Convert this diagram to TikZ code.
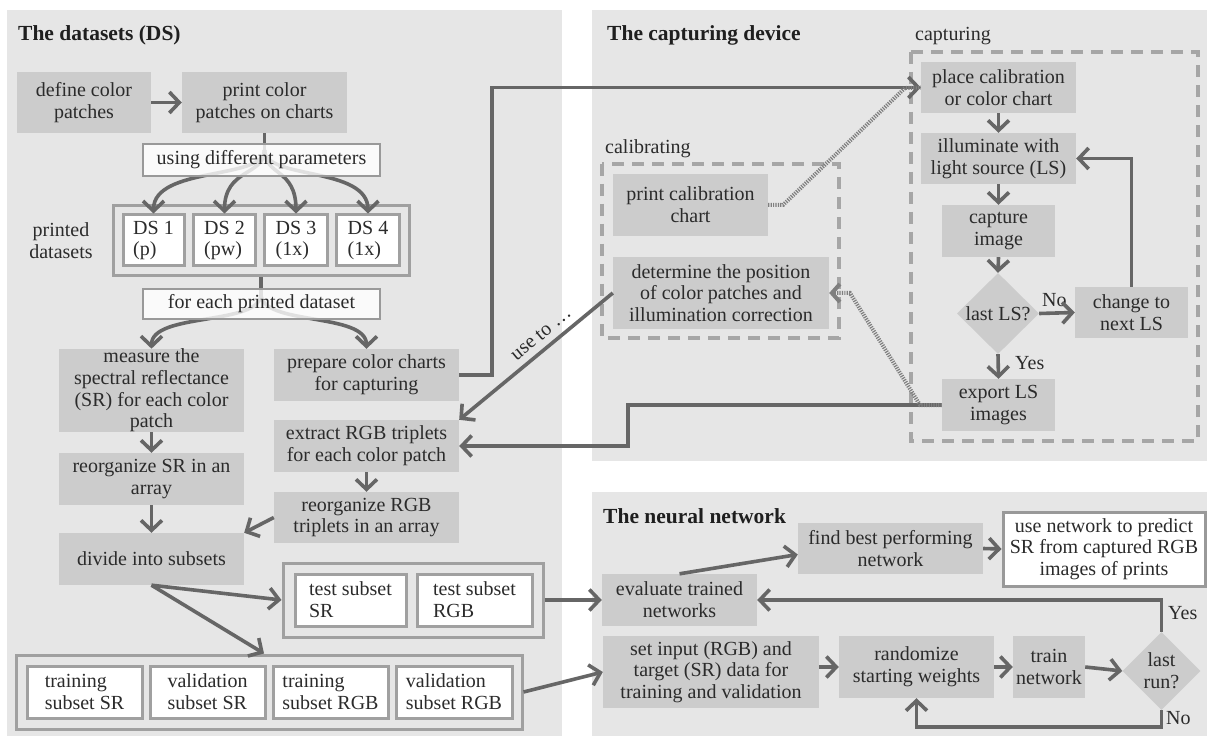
\documentclass[tikz,border=0pt]{standalone}
\usepackage{fontspec}
\setmainfont{Liberation Serif}
\usetikzlibrary{arrows.meta,shapes.geometric,calc}
\definecolor{panel}{HTML}{E6E6E6}
\definecolor{boxg}{HTML}{CCCCCC}
\definecolor{arrc}{HTML}{666666}
\definecolor{dashc}{HTML}{A6A6A6}
\definecolor{grpc}{HTML}{A0A0A0}
\definecolor{wbc}{HTML}{999999}
\definecolor{txt}{HTML}{2B2B2B}
\definecolor{ttl}{HTML}{1F1F1F}
\definecolor{dotc}{HTML}{7F7F7F}
\begin{document}
\begin{tikzpicture}[x=1pt,y=-1pt,
 font=\fontsize{20}{21.7}\selectfont, text=txt,
 box/.style={fill=boxg, inner sep=0pt, align=center},
 wbox/.style={fill=white, draw=grpc, line width=3pt, inner sep=0pt, align=left, minimum height=52pt},
 grp/.style={draw=grpc, line width=3pt, inner sep=0pt},
 dbox/.style={draw=dashc, line width=4pt, dash pattern=on 12pt off 8pt},
 dia/.style={diamond, aspect=1, fill=boxg, inner sep=0pt, align=center},
 arr/.style={draw=arrc, line width=3.6pt, -{Straight Barb[length=10pt,width=21pt]}},
 ln/.style={draw=arrc, line width=3.6pt},
 dotl/.style={draw=dotc, line width=4pt, dash pattern=on 1.2pt off 1.2pt},
 ttlf/.style={font=\fontsize{21.5}{24}\selectfont\bfseries, text=ttl, inner sep=0pt, anchor=base west},
 lbl/.style={inner sep=0pt, anchor=base west},
 wlab/.style={fill=white, fill opacity=0.8, text opacity=1, draw=wbc, line width=2pt, minimum width=237pt, inner sep=0pt}
]
\useasboundingbox (0,0) rectangle (1207,743);
% panels
\fill[panel] (7,10) rectangle (562,736);
\fill[panel] (592,10) rectangle (1207,461);
\fill[panel] (592,492) rectangle (1207,736);
% titles
\node[ttlf] (t1) at (18,41) {The datasets (DS)};
\node[ttlf] (t2) at (607,41) {The capturing device};
\node[ttlf] (t3) at (603,523) {The neural network};

% ---------- datasets ----------
\node[box, minimum width=134pt, minimum height=61pt] (define) at (84,102.5) {define color\\patches};
\node[box, minimum width=165pt, minimum height=61pt] (print) at (264.5,102.5) {print color\\patches on charts};
\node[grp, minimum width=296pt, minimum height=70pt] (dsg) at (261,241) {};
\node[wbox, minimum width=61pt, minimum height=51pt] (ds1) at (153.5,240.5) {DS 1\\(p)};
\node[wbox, minimum width=62pt, minimum height=51pt] (ds2) at (224.5,240.5) {DS 2\\(pw)};
\node[wbox, minimum width=63pt, minimum height=51pt] (ds3) at (296,240.5) {DS 3\\(1x)};
\node[wbox, minimum width=63pt, minimum height=51pt] (ds4) at (368,240.5) {DS 4\\(1x)};
\node[align=center, inner sep=0pt] (pd) at (61,241) {printed\\datasets};
\node[box, minimum width=185pt, minimum height=83pt] (measure) at (151.5,390.5) {measure the\\spectral reflectance\\(SR) for each color\\patch};
\node[box, minimum width=185pt, minimum height=52pt] (prepare) at (366.5,375) {prepare color charts\\for capturing};
\node[box, minimum width=185pt, minimum height=52pt] (reorgsr) at (151.5,479) {reorganize SR in an\\array};
\node[box, minimum width=185pt, minimum height=52pt] (extract) at (366.5,446) {extract RGB triplets\\for each color patch};
\node[box, minimum width=185pt, minimum height=51pt] (reorgrgb) at (366.5,517.5) {reorganize RGB\\triplets in an array};
\node[box, minimum width=185pt, minimum height=52pt] (divide) at (151.5,559) {divide into subsets};
\node[grp, minimum width=260pt, minimum height=74pt] (testg) at (413,600) {};
\node[wbox, minimum width=111pt] (testsr) at (350.5,600) {test subset\\SR};
\node[wbox, minimum width=115pt] (testrgb) at (474.5,600) {test subset\\RGB};
\node[grp, minimum width=506pt, minimum height=74pt] (traing) at (269,692) {};
\node[wbox, minimum width=115pt] (trsr) at (84.5,692) {training\\subset SR};
\node[wbox, minimum width=115pt] (vasr) at (207.5,692) {validation\\subset SR};
\node[wbox, minimum width=115pt] (trrgb) at (330.5,692) {training\\subset RGB};
\node[wbox, minimum width=116pt] (vargb) at (454,692) {validation\\subset RGB};

% ---------- capturing device ----------
\node[lbl] (caplbl) at (915,41) {capturing};
\draw[dbox] (911,52) rectangle (1198,441);
\node[lbl] (callbl) at (605,154) {calibrating};
\draw[dbox] (602,164) rectangle (839,338);
\node[box, minimum width=155pt, minimum height=51pt] (place) at (998.5,87.5) {place calibration\\or color chart};
\node[box, minimum width=155pt, minimum height=51pt] (illum) at (998.5,158.5) {illuminate with\\light source (LS)};
\node[box, minimum width=113pt, minimum height=52pt] (capimg) at (998.5,231) {capture\\image};
\node[dia, minimum width=82pt, minimum height=81pt] (dls) at (998,313.5) {last LS?};
\node[box, minimum width=113pt, minimum height=51pt] (change) at (1131.5,312.5) {change to\\next LS};
\node[box, minimum width=113pt, minimum height=52pt] (export) at (998.5,405) {export LS\\images};
\node[box, minimum width=155pt, minimum height=62pt] (pcc) at (690.5,205) {print calibration\\chart};
\node[box, minimum width=216pt, minimum height=72pt] (determine) at (721,293) {determine the position\\of color patches and\\illumination correction};
\node[lbl] (nolbl1) at (1042,306) {No};
\node[lbl] (yeslbl1) at (1015,369) {Yes};

% ---------- neural network ----------
\node[box, minimum width=185pt, minimum height=51pt] (find) at (890.5,548.5) {find best performing\\network};
\node[fill=white, draw=wbc, line width=3pt, inner sep=0pt, align=center, minimum width=202pt, minimum height=74pt] (use) at (1104,549) {use network to predict\\SR from captured RGB\\images of prints};
\node[box, minimum width=155pt, minimum height=52pt] (eval) at (679.5,600) {evaluate trained\\networks};
\node[box, minimum width=216pt, minimum height=72pt] (setin) at (711,672) {set input (RGB) and\\target (SR) data for\\training and validation};
\node[box, minimum width=155pt, minimum height=62pt] (rand) at (916.5,667) {randomize\\starting weights};
\node[box, minimum width=72pt, minimum height=62pt] (train) at (1049,667) {train\\network};
\node[dia, minimum width=78pt, minimum height=78pt] (drun) at (1161.5,671) {last\\run?};
\node[lbl] (yeslbl2) at (1168,619) {Yes};
\node[lbl] (nolbl2) at (1166,724) {No};

% ---------- connectors: datasets ----------
\draw[arr] (define.east) -- (print.west);
\coordinate (fan1) at (264.5,150);
\draw[ln] (print.south) -- (fan1);
\draw[arr] (fan1) .. controls (264.5,180) and (153.5,166) .. (ds1.north);
\draw[arr] (fan1) .. controls (264.5,176) and (224.5,168) .. (ds2.north);
\draw[arr] (fan1) .. controls (264.5,176) and (296,168) .. (ds3.north);
\draw[arr] (fan1) .. controls (264.5,180) and (368,166) .. (ds4.north);
\node[wlab, minimum height=32pt] (usingdp) at (261.5,160) {using different parameters};

\coordinate (fan2) at (261,294);
\draw[ln] (dsg.south) -- (fan2);
\draw[arr] (fan2) .. controls (261,326) and (151.5,312) .. (measure.north);
\draw[arr] (fan2) .. controls (261,326) and (366.5,312) .. (prepare.north);
\node[wlab, minimum height=30pt] (foreach) at (261.5,304) {for each printed dataset};

\draw[arr] (measure.south) -- (reorgsr.north);
\draw[arr] (reorgsr.south) -- (divide.north);
\draw[arr] (extract.south) -- (reorgrgb.north);
\draw[arr] (reorgrgb.west) -- (divide.north east);
\draw[arr] (divide.south) -- (testg.west);
\draw[arr] (divide.south) -- ([xshift=-5pt]traing.north);

% ---------- connectors: capturing ----------
\coordinate (p1) at (492,375);
\coordinate (p2) at (492,87.5);
\draw[arr] (prepare.east) -- (p1) -- (p2) -- (place.west);
\coordinate (d1) at (783,205);
\coordinate (d2) at (905,88);
\draw[dotl] (pcc.east) -- (d1) -- (d2) -- (place.west);
\draw[arr] (place.south) -- (illum.north);
\draw[arr] (illum.south) -- (capimg.north);
\draw[arr] (capimg.south) -- (dls.north);
\draw[arr] (dls.east) -- (change.west);
\draw[arr] (dls.south) -- (export.north);
\draw[arr] (change.north) |- (illum.east);
\coordinate (e1) at (628,405);
\coordinate (e2) at (628,446);
\draw[arr] (export.west) -- (e1) -- (e2) -- (extract.east);
\coordinate (g1) at (920,405);
\coordinate (g2) at (850,293);
\draw[dotl, -{Straight Barb[length=8pt,width=18pt]}] (export.west) -- (g1) -- (g2) -- (determine.east);
\draw[arr] (determine.west) -- (extract.north east);
\node[rotate=39.5, inner sep=0pt] (uselbl) at (541,334) {use to …};

% ---------- connectors: neural ----------
\draw[arr] (testg.east) -- (eval.west);
\draw[arr] (traing.east) -- (setin.west);
\draw[arr] (eval.north) -- ([yshift=-6pt]find.west);
\draw[arr] (find.east) -- (use.west);
\draw[arr] (setin.east |- rand.west) -- (rand.west);
\draw[arr] (rand.east) -- (train.west);
\draw[arr] (train.east) -- (drun.west);
\draw[arr] (drun.north) |- (eval.east);
\draw[arr] (drun.south) -- ++(0,17) -| (rand.south);
\end{tikzpicture}
\end{document}
